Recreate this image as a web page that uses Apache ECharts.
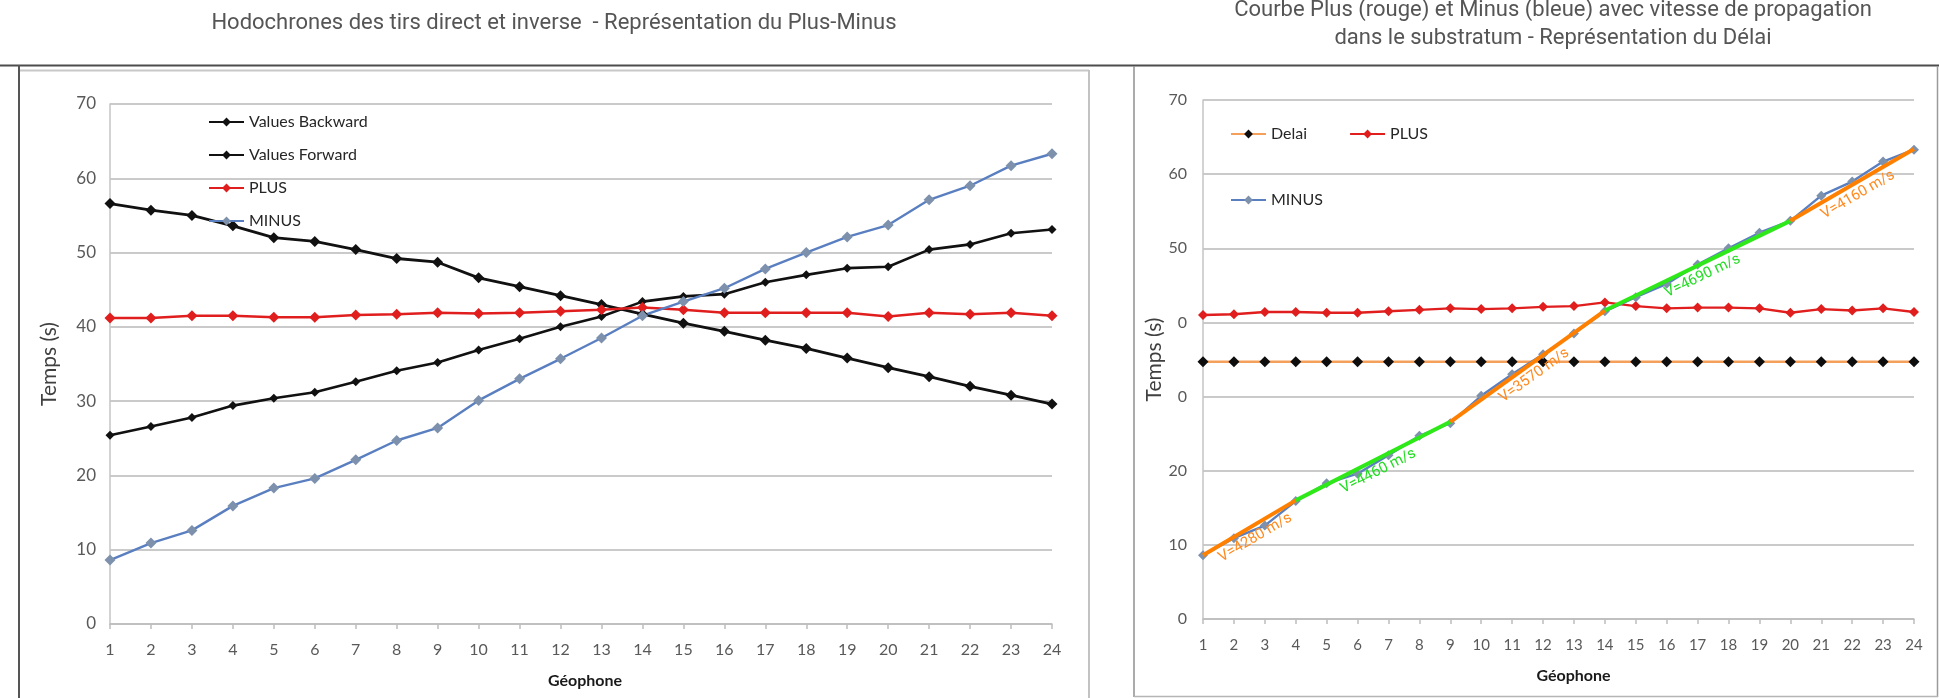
<!DOCTYPE html>
<html>
<head>
<meta charset="utf-8">
<script src="https://cdn.jsdelivr.net/npm/echarts@6/dist/echarts.min.js"></script>
<style>
html,body{margin:0;padding:0;background:#fff;}
#c{width:1939px;height:698px;}
</style>
</head>
<body>
<div id="c"></div>
<script>
// ---- data ----
const geophones = [1,2,3,4,5,6,7,8,9,10,11,12,13,14,15,16,17,18,19,20,21,22,23,24];
const valuesBackward = [56.6,55.7,55.0,53.6,52.0,51.5,50.4,49.2,48.7,46.6,45.4,44.2,43.0,41.7,40.5,39.4,38.2,37.1,35.8,34.5,33.3,32.0,30.8,29.6];
const valuesForward = [25.4,26.6,27.8,29.4,30.4,31.2,32.6,34.1,35.2,36.9,38.4,40.0,41.4,43.4,44.1,44.4,46.0,47.0,47.9,48.1,50.4,51.1,52.6,53.1];
const plusLeft = [41.2,41.2,41.5,41.5,41.3,41.3,41.6,41.7,41.9,41.8,41.9,42.1,42.3,42.6,42.3,41.9,41.9,41.9,41.9,41.4,41.9,41.7,41.9,41.5];
const minusValues = [8.6,10.9,12.6,15.9,18.3,19.6,22.1,24.7,26.4,30.1,33.0,35.7,38.5,41.5,43.4,45.2,47.8,50.0,52.1,53.7,57.1,59.0,61.7,63.3];
const plusRight = [41.0,41.1,41.4,41.4,41.3,41.3,41.5,41.7,41.9,41.8,41.9,42.1,42.2,42.7,42.2,41.9,42.0,42.0,41.9,41.3,41.8,41.6,41.9,41.4];
const delai = [34.7,34.7,34.7,34.7,34.7,34.7,34.7,34.7,34.7,34.7,34.7,34.7,34.7,34.7,34.7,34.7,34.7,34.7,34.7,34.7,34.7,34.7,34.7,34.7];
// velocity fit segments (right chart)
const fitFromX = [1, 4, 9, 14, 20];
const fitToX = [4, 9, 14, 20, 24];
const fitFromT = [8.6, 16.0, 26.6, 41.6, 53.7];
const fitToT = [16.0, 26.6, 41.6, 53.7, 63.4];
const fitLabels = ['V=4280 m/s', 'V=4460 m/s', 'V=3570 m/s', 'V=4690 m/s', 'V=4160 m/s'];
// tick labels
const leftYTicks = {0:'0',10:'10',20:'20',30:'30',40:'40',50:'50',60:'60',70:'70'};
const rightYTicks = {0:'0',10:'10',20:'20',30:'0',40:'0',50:'50',60:'60',70:'70'};

const titleLeft = 'Hodochrones des tirs direct et inverse  - Représentation du Plus-Minus';
const titleRight = 'Courbe Plus (rouge) et Minus (bleue) avec vitesse de propagation\ndans le substratum - Représentation du Délai';

// ---- styles ----
const ORANGE = '#ff8000', GREEN = '#2ee81a';
const fitColors = [ORANGE, GREEN, ORANGE, GREEN, ORANGE];
const fitLabelColors = ['#ff8a1f', '#22dd22', '#ff8a1f', '#22dd22', '#ff8a1f'];
const axisFont = 'Lato, "Open Sans", sans-serif';

function pts(arr){ return geophones.map((g,i)=>[g, arr[i]]); }

const chart = echarts.init(document.getElementById('c'));

function xAxisCfg(grid, fs, margin, nameGap, pad){
  return {
    type:'value', gridIndex:grid, min:1, max:24, interval:1,
    name:'Géophone', nameLocation:'middle', nameGap:nameGap,
    nameTextStyle:{fontFamily:axisFont, fontWeight:'bold', fontSize:16, color:'#1a1a1a', padding:pad},
    axisLine:{show:true, lineStyle:{color:'#bdbdbd', width:1.5}},
    axisTick:{show:true, inside:false, length:5, lineStyle:{color:'#bdbdbd', width:1.5}},
    axisLabel:{fontFamily:axisFont, fontSize:fs, color:'#595959', margin:margin},
    splitLine:{show:false}
  };
}
function yAxisCfg(grid, fs, margin, ticks, nameGap){
  return {
    type:'value', gridIndex:grid, min:0, max:70, interval:10,
    name:'Temps (s)', nameLocation:'middle', nameGap:nameGap, nameRotate:90,
    nameTextStyle:{fontFamily:axisFont, fontSize:21, color:'#404040'},
    axisLine:{show:true, lineStyle:{color:'#c4c4c4', width:1.5}},
    axisTick:{show:false},
    axisLabel:{fontFamily:axisFont, fontSize:fs, color:'#595959', margin:margin, formatter:v=>ticks[v]},
    splitLine:{show:true, lineStyle:{color:'#b9b9b9', width:1.5}}
  };
}

const fitMarkData = fitFromX.map((x,i)=>[
  {coord:[x, fitFromT[i]], lineStyle:{color:fitColors[i], width:4, type:'solid'},
   label:{show:true, position:'insideMiddleBottom', formatter:fitLabels[i], color:fitLabelColors[i],
          fontFamily:'Roboto, sans-serif', fontSize:15, distance:4}},
  {coord:[fitToX[i], fitToT[i]]}
]);

const option = {
  animation:false,
  backgroundColor:'#ffffff',
  title:[
    {text:titleLeft, left:554, top:9, textAlign:'center', padding:0,
     textStyle:{fontFamily:'Roboto, sans-serif', fontWeight:'normal', fontSize:22, lineHeight:28, color:'#555555'}},
    {text:titleRight, left:1553, top:-4, textAlign:'center', padding:0,
     textStyle:{fontFamily:'Roboto, sans-serif', fontWeight:'normal', fontSize:22, lineHeight:28, color:'#555555'}}
  ],
  legend:[
    {data:['Values Backward','Values Forward','PLUS','MINUS'], orient:'vertical', left:203, top:109,
     itemGap:17, itemWidth:35, itemHeight:11,
     textStyle:{fontFamily:axisFont, fontSize:16, color:'#262626'}},
    {data:['Delai','PLUS'], orient:'horizontal', left:1225, top:121,
     itemGap:42, itemWidth:35, itemHeight:11,
     textStyle:{fontFamily:axisFont, fontSize:16, color:'#262626'}},
    {data:['MINUS'], orient:'horizontal', left:1225, top:187,
     itemGap:42, itemWidth:35, itemHeight:11,
     textStyle:{fontFamily:axisFont, fontSize:16, color:'#262626'}}
  ],
  grid:[
    {left:110, top:104, width:942, height:520},
    {left:1203, top:100, width:711, height:519}
  ],
  xAxis:[ xAxisCfg(0, 16, 18, 49, [0,0,0,8]), xAxisCfg(1, 15, 19, 49, [0,0,0,30]) ],
  yAxis:[ yAxisCfg(0, 17, 14, leftYTicks, 50), yAxisCfg(1, 16, 16, rightYTicks, 32) ],
  graphic:[
    {type:'line', shape:{x1:0,y1:65.5,x2:1939,y2:65.5}, style:{stroke:'#4d4d4d', lineWidth:2}, z:-1},
    {type:'line', shape:{x1:19,y1:65,x2:19,y2:698}, style:{stroke:'#555555', lineWidth:2}, z:-1},
    {type:'line', shape:{x1:20,y1:70.5,x2:1089,y2:70.5}, style:{stroke:'#c8c8c8', lineWidth:2}, z:-1},
    {type:'line', shape:{x1:1089,y1:70,x2:1089,y2:698}, style:{stroke:'#c2c2c2', lineWidth:2}, z:-1},
    {type:'line', shape:{x1:1134,y1:66,x2:1134,y2:697}, style:{stroke:'#8f8f8f', lineWidth:1.5}, z:-1},
    {type:'line', shape:{x1:1937.5,y1:66,x2:1937.5,y2:697}, style:{stroke:'#9a9a9a', lineWidth:1.5}, z:-1},
    {type:'line', shape:{x1:1134,y1:696.5,x2:1938,y2:696.5}, style:{stroke:'#b5b5b5', lineWidth:1.5}, z:-1}
  ],
  series:[
    {name:'Values Backward', type:'line', xAxisIndex:0, yAxisIndex:0, data:pts(valuesBackward),
     symbol:'diamond', symbolSize:11, showAllSymbol:true,
     lineStyle:{color:'#111111', width:2.8}, itemStyle:{color:'#111111'}, z:3},
    {name:'Values Forward', type:'line', xAxisIndex:0, yAxisIndex:0, data:pts(valuesForward),
     symbol:'diamond', symbolSize:9, showAllSymbol:true,
     lineStyle:{color:'#111111', width:2.6}, itemStyle:{color:'#111111'}, z:3},
    {name:'PLUS', type:'line', xAxisIndex:0, yAxisIndex:0, data:pts(plusLeft),
     symbol:'diamond', symbolSize:11, showAllSymbol:true,
     lineStyle:{color:'#e01e1e', width:2.6}, itemStyle:{color:'#e01e1e'}, z:3},
    {name:'MINUS', type:'line', xAxisIndex:0, yAxisIndex:0, data:pts(minusValues),
     symbol:'diamond', symbolSize:11, showAllSymbol:true,
     lineStyle:{color:'#5a7fc0', width:2.4}, itemStyle:{color:'#7d91ad'}, z:3},

    {name:'Delai', type:'line', xAxisIndex:1, yAxisIndex:1, data:pts(delai),
     symbol:'diamond', symbolSize:11, showAllSymbol:true,
     lineStyle:{color:'#f5a05a', width:2.6}, itemStyle:{color:'#0d0d0d'}, z:3},
    {name:'PLUS', type:'line', xAxisIndex:1, yAxisIndex:1, data:pts(plusRight),
     symbol:'diamond', symbolSize:10, showAllSymbol:true,
     lineStyle:{color:'#e01e1e', width:2.4}, itemStyle:{color:'#e01e1e'}, z:3},
    {name:'MINUS', type:'line', xAxisIndex:1, yAxisIndex:1, data:pts(minusValues),
     symbol:'diamond', symbolSize:10, showAllSymbol:true,
     lineStyle:{color:'#5a7fc0', width:2.4}, itemStyle:{color:'#7d91ad'}, z:3,
     markLine:{silent:true, symbol:['none','none'], animation:false, data:fitMarkData}}
  ]
};
chart.setOption(option);
</script>
</body>
</html>
